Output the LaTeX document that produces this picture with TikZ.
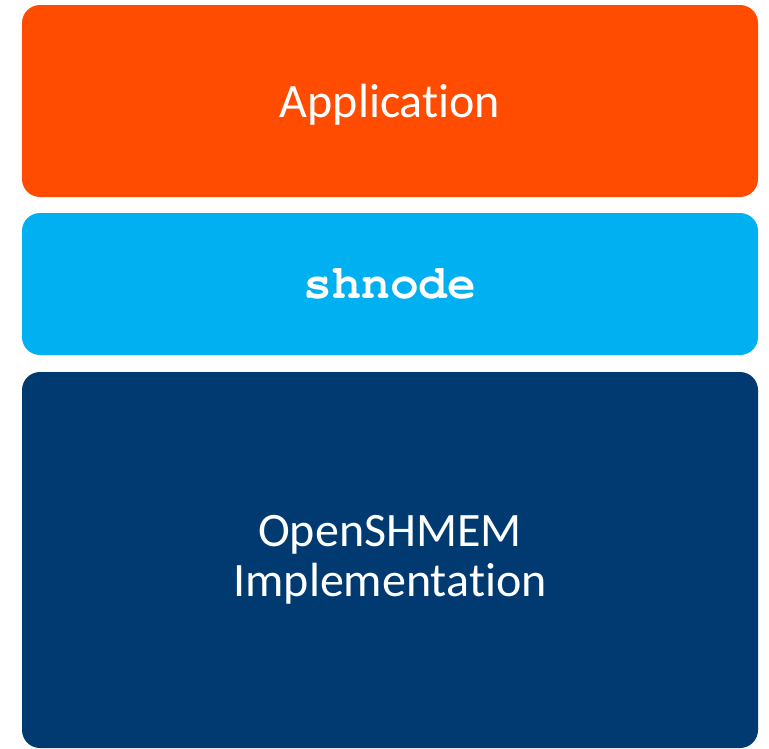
\documentclass[tikz,border=0pt]{standalone}
\usepackage{fontspec}
\setmainfont{Carlito}[RawFeature=-liga]
\setmonofont{TeX Gyre Cursor}
\usetikzlibrary{positioning}
\definecolor{appC}{RGB}{255,76,0}
\definecolor{midC}{RGB}{0,176,240}
\definecolor{implC}{RGB}{0,58,112}
\tikzset{
  layer/.style = {rounded corners=18pt, minimum width=736pt, align=center,
                  text=white, inner sep=0pt, outer sep=0pt,
                  font=\fontsize{48}{50}\selectfont}
}

\begin{document}
\begin{tikzpicture}[x=1pt, y=-1pt]
  \useasboundingbox (0,0) rectangle (769,748);

  %% -- Layers ----------------------------------------------------
  \node[layer, fill=appC,  minimum height=192pt, text depth=0pt] (app) at (390,101)
    {Application};
  \node[layer, fill=midC,  minimum height=142pt, below=16pt of app] (shnode)
    {\ttfamily\bfseries shnode};
  \node[layer, fill=implC, minimum height=376pt, below=17pt of shnode] (impl)
    {OpenSHMEM\\Implementation};

\end{tikzpicture}
\end{document}
